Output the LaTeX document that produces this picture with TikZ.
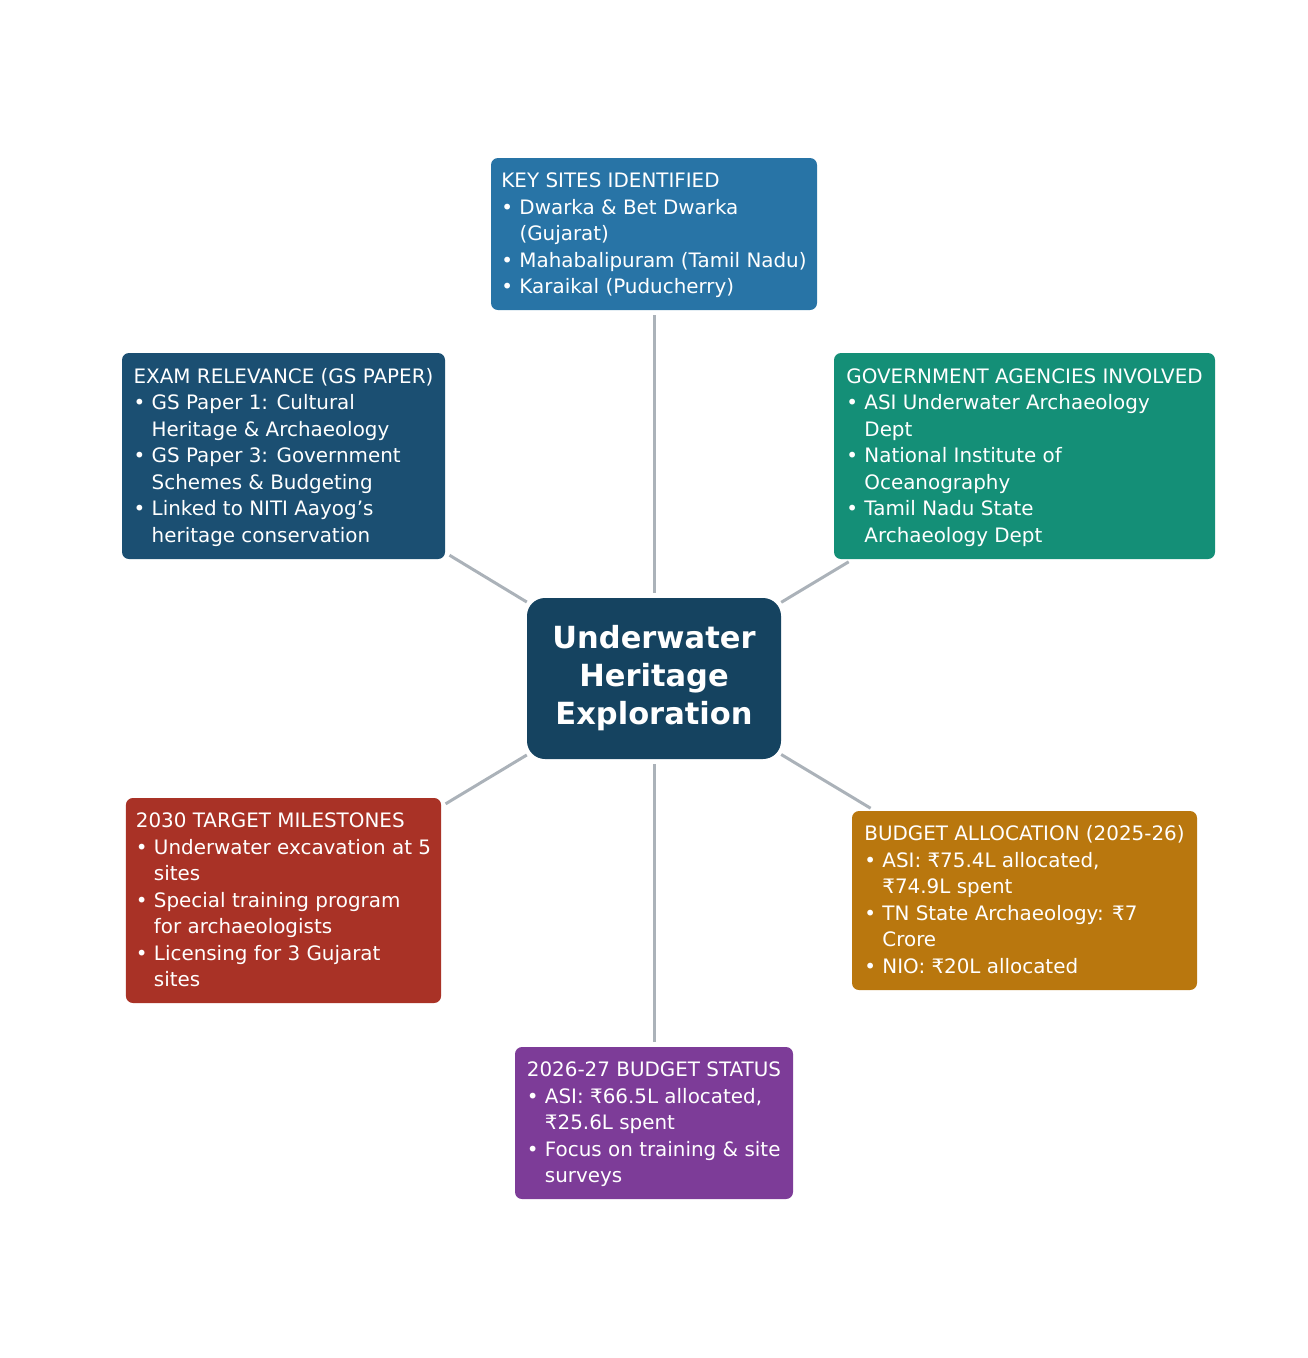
\documentclass[tikz,border=0pt]{standalone}
\usepackage{fontspec}
\setmainfont{DejaVu Sans}
\definecolor{ksblue}{HTML}{2874A6}
\definecolor{exblue}{HTML}{1B4F72}
\definecolor{govgreen}{HTML}{148F77}
\definecolor{cnblue}{HTML}{154360}
\definecolor{tgred}{HTML}{A93226}
\definecolor{bdorange}{HTML}{B9770E}
\definecolor{stpurple}{HTML}{7D3C98}
\definecolor{linegray}{HTML}{ABB2B9}
\newcommand\ind{\phantom{•\ }}
\newcommand\topst{\rule{0pt}{23pt}}
\newcommand\botst{\rule[-10pt]{0pt}{10pt}}
\begin{document}
\begin{tikzpicture}[x=1pt,y=-1pt,
  infobox/.style={rounded corners=7pt, text=white, align=left, inner xsep=10pt, inner ysep=0pt,
    font=\fontsize{19.9}{26.5}\selectfont},
  centerbox/.style={rounded corners=18pt, fill=cnblue, text=white, align=center,
    font=\fontsize{30.5}{38}\selectfont\bfseries, minimum width=254pt, minimum height=161pt},
  link/.style={draw=linegray, line width=3pt}
]
\useasboundingbox (0,0) rectangle (1308,1358);

\node[centerbox] (c) at (654,678.5) {Underwater\\Heritage\\Exploration};

\node[infobox, fill=ksblue, minimum width=326pt, minimum height=152pt] (ks) at (654,234)
 {\topst KEY SITES IDENTIFIED\\•\ Dwarka \& Bet Dwarka\\\ind(Gujarat)\\•\ Mahabalipuram (Tamil Nadu)\\•\ Karaikal (Puducherry)\botst};

\node[infobox, fill=exblue, minimum width=323pt, minimum height=206pt] (ex) at (283.5,456)
 {\topst EXAM RELEVANCE (GS PAPER)\\•\ GS Paper 1: Cultural\\\ind Heritage \& Archaeology\\•\ GS Paper 3: Government\\\ind Schemes \& Budgeting\\•\ Linked to NITI Aayog’s\\\ind heritage conservation\botst};

\node[infobox, fill=govgreen, minimum width=381pt, minimum height=206pt] (gov) at (1024.5,456)
 {\topst GOVERNMENT AGENCIES INVOLVED\\•\ ASI Underwater Archaeology\\\ind Dept\\•\ National Institute of\\\ind Oceanography\\•\ Tamil Nadu State\\\ind Archaeology Dept\botst};

\node[infobox, fill=tgred, minimum width=315pt, minimum height=205pt] (tg) at (283.5,900.5)
 {\topst 2030 TARGET MILESTONES\\•\ Underwater excavation at 5\\\ind sites\\•\ Special training program\\\ind for archaeologists\\•\ Licensing for 3 Gujarat\\\ind sites\botst};

\node[infobox, fill=bdorange, minimum width=345pt, minimum height=179pt] (bd) at (1024.5,900.5)
 {\topst BUDGET ALLOCATION (2025-26)\\•\ ASI: ₹75.4L allocated,\\\ind ₹74.9L spent\\•\ TN State Archaeology: ₹7\\\ind Crore\\•\ NIO: ₹20L allocated\botst};

\node[infobox, fill=stpurple, minimum width=278pt, minimum height=152pt] (st) at (654,1123)
 {\topst 2026-27 BUDGET STATUS\\•\ ASI: ₹66.5L allocated,\\\ind ₹25.6L spent\\•\ Focus on training \& site\\\ind surveys\botst};

\draw[link, shorten <=5pt, shorten >=5pt] (c) -- (ks);
\draw[link, shorten <=5pt, shorten >=5pt] (c) -- (st);
\draw[link, shorten >=5pt] (c) -- (ex);
\draw[link, shorten >=5pt] (c) -- (gov);
\draw[link, shorten >=5pt] (c) -- (tg);
\draw[link, shorten >=5pt] (c) -- (bd);
\end{tikzpicture}
\end{document}
